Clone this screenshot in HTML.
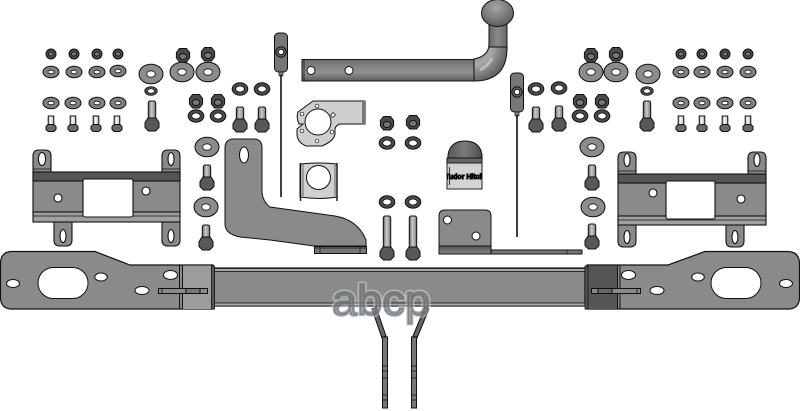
<!DOCTYPE html>
<html>
<head>
<meta charset="utf-8">
<style>
html,body{margin:0;padding:0;background:#fff}
svg{display:block}
</style>
</head>
<body>
<svg width="800" height="411" viewBox="0 0 800 411" xmlns="http://www.w3.org/2000/svg">
<defs>
<linearGradient id="shaft" x1="0" x2="1" y1="0" y2="0"><stop offset="0" stop-color="#666"/><stop offset=".45" stop-color="#ccc"/><stop offset="1" stop-color="#777"/></linearGradient>
<linearGradient id="shaftL" x1="0" x2="1" y1="0" y2="0"><stop offset="0" stop-color="#999"/><stop offset=".4" stop-color="#fff"/><stop offset="1" stop-color="#aaa"/></linearGradient>
<linearGradient id="tube" x1="0" x2="0" y1="0" y2="1"><stop offset="0" stop-color="#6e6e6e"/><stop offset=".6" stop-color="#929292"/><stop offset="1" stop-color="#5e5e5e"/></linearGradient>
<linearGradient id="vert" x1="0" x2="1" y1="0" y2="0"><stop offset="0" stop-color="#6a6a6a"/><stop offset=".5" stop-color="#8a8a8a"/><stop offset="1" stop-color="#666"/></linearGradient>
<linearGradient id="strip" x1="0" x2="0" y1="0" y2="1"><stop offset="0" stop-color="#555"/><stop offset="1" stop-color="#888"/></linearGradient>
<radialGradient id="ball" cx=".45" cy=".3" r=".75"><stop offset="0" stop-color="#a5a5a5"/><stop offset=".6" stop-color="#777"/><stop offset="1" stop-color="#555"/></radialGradient>
<radialGradient id="bend" cx="0" cy="0" r="1"><stop offset="0" stop-color="#666"/><stop offset=".55" stop-color="#aaa"/><stop offset="1" stop-color="#666"/></radialGradient>
<linearGradient id="dome" x1="0" x2="1" y1="0" y2="0"><stop offset="0" stop-color="#5a5a5a"/><stop offset=".5" stop-color="#7a7a7a"/><stop offset="1" stop-color="#4c4c4c"/></linearGradient>

<g id="sn"><circle r="5" fill="#4a4a4a" stroke="#111"/><ellipse rx="2.6" ry="2" fill="#777" stroke="#111" stroke-width=".8"/></g>
<g id="sw"><ellipse rx="8" ry="5.700" fill="#808080" stroke="#111"/><ellipse rx="3" ry="1.800" fill="#fff" stroke="#111" stroke-width=".8"/></g>
<g id="sb"><rect x="-2.800" y="-8" width="5.600" height="9" fill="url(#shaftL)" stroke="#111"/><path d="M-5 2.500L-2.800 0.500H2.800L5 2.500V5.500L2.800 7.500H-2.800L-5 5.500Z" fill="#6a6a6a" stroke="#111"/></g>
<g id="lw"><ellipse rx="12" ry="9.800" fill="#8c8c8c" stroke="#111"/><ellipse rx="4.300" ry="3.200" fill="#fff" stroke="#111" stroke-width=".8"/></g>
<g id="nut"><path d="M-6.600 -2.500L-3.500 -6.500H3.500L6.600 -2.500V3L3.500 7H-3.500L-6.600 3Z" fill="#4a4a4a" stroke="#111"/><ellipse cy="1.500" rx="3.800" ry="3" fill="#777" stroke="#111"/></g>
<g id="ring"><ellipse rx="7.800" ry="6.200" fill="#4a4a4a" stroke="#111"/><ellipse rx="4.300" ry="3" fill="#fff" stroke="#111" stroke-width=".8"/></g>
<g id="bolt"><rect x="-3.700" y="-18" width="7.400" height="15" rx="2" fill="url(#shaft)" stroke="#111"/><path d="M-7 -1.500L-4 -6H4L7 -1.500V3.500L3.500 7H-3.500L-7 3.500Z" fill="#585858" stroke="#111"/></g>
<g id="bolt2"><rect x="-3.700" y="-23" width="7.400" height="20" rx="2" fill="url(#shaft)" stroke="#111"/><path d="M-7 -1.500L-4 -6H4L7 -1.500V3.500L3.500 7H-3.500L-7 3.500Z" fill="#585858" stroke="#111"/></g>
<g id="lb"><rect x="-3.700" y="-37" width="7.400" height="33" rx="2" fill="url(#shaft)" stroke="#111"/><path d="M-7 -1.500L-4 -6H4L7 -1.500V3.500L3.500 7H-3.500L-7 3.500Z" fill="#585858" stroke="#111"/></g>
<g id="stem">
<rect x="-6.500" y="0" width="13" height="39" rx="4" fill="#777" stroke="#111"/>
<path d="M-2 39H2V43H-2Z" fill="#777" stroke="#111" stroke-width=".6"/>
<circle cy="19" r="5.200" fill="#666" stroke="#111"/><circle cy="19" r="2.800" fill="#fff" stroke="#111"/>
<line x1="0" x2="0" y1="42" y2="164" stroke="#111" stroke-width="1.600"/>
</g>
</defs>

<!-- small hardware, left -->
<use href="#sn" x="51" y="54"/><use href="#sn" x="74" y="54"/><use href="#sn" x="97" y="54"/><use href="#sn" x="118" y="54"/>
<use href="#sw" x="51" y="72"/><use href="#sw" x="74" y="72"/><use href="#sw" x="97" y="72"/><use href="#sw" x="118" y="71"/>
<use href="#sw" x="51" y="103"/><use href="#sw" x="73" y="103"/><use href="#sw" x="97" y="103"/><use href="#sw" x="118" y="103"/>
<use href="#sb" x="51" y="124"/><use href="#sb" x="73" y="124"/><use href="#sb" x="96" y="124"/><use href="#sb" x="117" y="124"/>
<!-- small hardware, right -->
<use href="#sn" x="681" y="54"/><use href="#sn" x="702" y="54"/><use href="#sn" x="725" y="54"/><use href="#sn" x="748" y="54"/>
<use href="#sw" x="681" y="72"/><use href="#sw" x="702" y="72"/><use href="#sw" x="725" y="72"/><use href="#sw" x="748" y="72"/>
<use href="#sw" x="681" y="103"/><use href="#sw" x="702" y="103"/><use href="#sw" x="725" y="103"/><use href="#sw" x="748" y="103"/>
<use href="#sb" x="681" y="124"/><use href="#sb" x="702" y="124"/><use href="#sb" x="725" y="124"/><use href="#sb" x="748" y="124"/>

<!-- large hardware, left -->
<use href="#lw" x="151" y="74"/><use href="#lw" x="182" y="72"/><use href="#lw" x="208" y="72"/>
<use href="#nut" x="183" y="55"/><use href="#nut" x="208" y="54"/>
<g transform="translate(151 91) scale(.8 .7)"><use href="#ring"/></g>
<use href="#bolt2" x="152" y="124"/>
<use href="#nut" x="196" y="101"/><use href="#nut" x="218" y="101"/>
<use href="#ring" x="196" y="116"/><use href="#ring" x="218" y="116"/>
<use href="#ring" x="240" y="89"/><use href="#ring" x="262" y="89"/>
<use href="#bolt" x="240" y="125"/><use href="#bolt" x="262" y="125"/>
<!-- large hardware, right -->
<use href="#lw" x="591" y="72"/><use href="#lw" x="616" y="72"/><use href="#lw" x="648" y="74"/>
<use href="#nut" x="591" y="55"/><use href="#nut" x="616" y="54"/>
<g transform="translate(647 91) scale(.8 .7)"><use href="#ring"/></g>
<use href="#bolt2" x="647" y="124"/>
<use href="#nut" x="580" y="101"/><use href="#nut" x="602" y="101"/>
<use href="#ring" x="580" y="116"/><use href="#ring" x="602" y="116"/>
<use href="#ring" x="536" y="89"/><use href="#ring" x="559" y="88"/>
<use href="#bolt" x="536" y="125"/><use href="#bolt" x="559" y="124"/>

<!-- side bolts -->
<use href="#lw" x="207" y="147"/><use href="#bolt" x="207" y="183"/>
<use href="#lw" x="206" y="207"/><use href="#bolt" x="206" y="243"/>
<use href="#lw" x="592" y="147"/><use href="#bolt" x="592" y="183"/>
<use href="#lw" x="593" y="207"/><use href="#bolt" x="592" y="242"/>

<!-- left bracket -->
<g stroke="#111" stroke-width="1.100">
<path d="M33 172V156Q33 150 39 150H45Q51 150 51 156V172H162V156Q162 150 168 150H174Q180 150 180 156V215L178 222H72V240Q72 246 66 246H60Q54 246 54 240V222H41Q33 222 33 216Z" fill="#8a8a8a"/>
<path d="M162 222H180V240Q180 246 174 246H168Q162 246 162 240Z" fill="#8a8a8a"/>
<rect x="33" y="172" width="147" height="9" fill="#555"/>
<rect x="33" y="212" width="147" height="10" fill="#a0a0a0"/>
<line x1="33" x2="180" y1="216" y2="216" stroke-width=".7"/>
<line x1="33" x2="51" y1="169" y2="169" stroke-width=".7"/><line x1="162" x2="180" y1="169" y2="169" stroke-width=".7"/>
<rect x="83" y="179" width="50" height="38" rx="2" fill="#fff"/>
<ellipse cx="42" cy="159" rx="3.600" ry="6.500" fill="#fff"/><ellipse cx="171" cy="159" rx="3" ry="6.500" fill="#fff"/>
<ellipse cx="63" cy="236" rx="3" ry="6.500" fill="#fff"/><ellipse cx="171" cy="236" rx="3" ry="6.500" fill="#fff"/>
<circle cx="58" cy="198" r="4" fill="#fff"/><circle cx="146" cy="191" r="4" fill="#fff"/>
</g>
<!-- right bracket -->
<g stroke="#111" stroke-width="1.100">
<path d="M618 174V158Q618 152 624 152H630Q636 152 636 158V174H748V158Q748 152 754 152H760Q766 152 766 158V218Q766 225 756 225H744V241Q744 247 738 247H732Q726 247 726 241V225H636V241Q636 247 630 247H624Q618 247 618 241Z" fill="#8a8a8a"/>
<rect x="618" y="174" width="148" height="9" fill="#555"/>
<rect x="618" y="216" width="148" height="9" fill="#a0a0a0"/>
<line x1="618" x2="766" y1="220" y2="220" stroke-width=".7"/>
<line x1="618" x2="636" y1="171" y2="171" stroke-width=".7"/><line x1="748" x2="766" y1="171" y2="171" stroke-width=".7"/>
<rect x="666" y="181" width="49" height="38" rx="2" fill="#fff"/>
<ellipse cx="627" cy="160" rx="3" ry="6.500" fill="#fff"/><ellipse cx="757" cy="160" rx="3" ry="6.500" fill="#fff"/>
<ellipse cx="627" cy="237" rx="3" ry="6.500" fill="#fff"/><ellipse cx="735" cy="237" rx="3" ry="6.500" fill="#fff"/>
<circle cx="653" cy="193" r="4" fill="#fff"/><circle cx="741" cy="199" r="4" fill="#fff"/>
</g>

<!-- L bracket -->
<path d="M225 148Q225 139 234 139H254Q262 139 262 148V192Q263 202 270 207L335 216Q358 220 366 240V246H314L270 240L240 237Q225 234 225 224Z" fill="#8a8a8a" stroke="#111" stroke-width="1"/>
<ellipse cx="244" cy="155" rx="4.500" ry="8" fill="#fff" stroke="#111"/>
<rect x="314.500" y="246.500" width="52" height="7" fill="#777" stroke="#111"/>
<path d="M320 247V253M360 247V253M314 248H366" stroke="#111" stroke-width=".7"/>

<!-- stems -->
<use href="#stem" x="281" y="33"/>
<use href="#stem" x="517" y="73"/>

<!-- hitch -->
<path d="M474 59Q489 56 489 44H507V48Q507 81 474 81Z" fill="url(#bend)" stroke="#111"/>
<path d="M480 70Q488 66 492 58" fill="none" stroke="#c8c8c8" stroke-width="3" opacity=".8"/>
<rect x="489" y="24" width="18" height="23" fill="url(#vert)" stroke="#111"/>
<rect x="302" y="59.500" width="172" height="21.500" fill="url(#tube)" stroke="#111"/>
<line x1="304" x2="304" y1="60" y2="81" stroke="#111" stroke-width=".8"/>
<circle cx="311" cy="70.500" r="4" fill="#fff" stroke="#111"/><circle cx="349" cy="70.500" r="4" fill="#fff" stroke="#111"/>
<ellipse cx="497.500" cy="13" rx="16" ry="13.500" fill="url(#ball)" stroke="#111"/>

<!-- plate 1 -->
<path d="M313 101H365V124H340Q334 126 335 132Q336 140 322 146H306Q297 142 297 134V129L303 124V124H299Q296 118 298 112Z" fill="#cfcfcf" stroke="#111"/>
<rect x="362" y="101" width="3" height="23" fill="#777"/>
<circle cx="318" cy="122" r="13" fill="#fff" stroke="#111"/>
<g fill="#fff" stroke="#111" stroke-width=".7"><circle cx="317" cy="106" r="1.800"/><circle cx="302" cy="114" r="1.800"/><circle cx="302" cy="131" r="1.800"/><circle cx="332" cy="132" r="1.800"/><circle cx="317" cy="141" r="1.800"/><path d="M333 112.500L335.500 115L333 117.500L330.500 115Z"/></g>
<!-- plate 2 -->
<path d="M300 164Q320 162 337 164V197Q320 200 300 197Z" fill="#d0d0d0" stroke="#111"/>
<path d="M300.500 163V201M337 163V201" stroke="#111" stroke-width="1.400"/>
<path d="M303 164V196M335 164V196" stroke="#666" stroke-width="1"/>
<circle cx="318.500" cy="177.500" r="12" fill="#fff" stroke="#111"/>

<!-- centre hardware -->
<use href="#nut" x="387" y="123"/><use href="#nut" x="413" y="122"/>
<use href="#ring" x="387" y="143"/><use href="#ring" x="413" y="143"/>
<use href="#ring" x="387" y="202"/><use href="#ring" x="413" y="202"/>
<use href="#lb" x="387" y="253"/><use href="#lb" x="413" y="253"/>

<!-- connector cap -->
<path d="M448 159V155Q450 141 465 141Q480 141 482 155V159Z" fill="url(#dome)" stroke="#111"/>
<rect x="447" y="158" width="35" height="5" fill="#666" stroke="#111"/>
<rect x="447" y="163" width="35" height="26" fill="#d4d4d4" stroke="#222"/>
<line x1="449.500" x2="449.500" y1="167" y2="185" stroke="#333"/>
<svg x="447" y="163" width="35" height="26"><text x="17.500" y="16" text-anchor="middle" font-family="Liberation Sans, sans-serif" font-size="7" font-weight="bold" fill="#000" stroke="#000" stroke-width=".9">Tudor Hitch</text></svg>

<!-- mounting bracket -->
<path d="M439 216Q439 210 445 210H485Q491 210 491 216V254H439Z" fill="#8a8a8a" stroke="#111"/>
<rect x="439" y="246" width="52" height="8" fill="url(#strip)" stroke="#111"/>
<circle cx="447.500" cy="220" r="4" fill="#fff" stroke="#111"/>
<circle cx="476" cy="236" r="4" fill="#fff" stroke="#111"/>
<rect x="491" y="250" width="91" height="4" fill="#777" stroke="#111"/>
<line x1="567" x2="567" y1="250" y2="254" stroke="#111" stroke-width=".7"/>

<!-- hangers -->
<path d="M372 309L376 307L386 336L382 338Z" fill="#666" stroke="#111"/>
<path d="M429 309L425 307L413 336L417 338Z" fill="#666" stroke="#111"/>
<g fill="#777" stroke="#111">
<rect x="382.500" y="337" width="5" height="71"/><rect x="411.500" y="337" width="5" height="71"/>
</g>
<path d="M382 366H388M382 371H388M382 378H388M382 395H388M382 400H388M411 366H417M411 371H417M411 378H417M411 395H417M411 400H417" stroke="#111" stroke-width=".7"/>

<!-- beam tube -->
<rect x="214" y="268" width="371" height="38" fill="#8a8a8a" stroke="#111" stroke-width="1.200"/>
<rect x="214" y="268.500" width="371" height="3" fill="#a8a8a8" stroke="#111" stroke-width=".8"/>
<rect x="214" y="303" width="371" height="3" fill="#a8a8a8" stroke="#111" stroke-width=".8"/>

<!-- left end -->
<path d="M12 251.500H95L130 265H213V309H12Q1 309 0.500 298V263Q1 251.500 12 251.500Z" fill="#8a8a8a" stroke="#111" stroke-width="1.200"/>
<rect x="182" y="265.500" width="30" height="43.500" fill="#9c9c9c"/>
<path d="M179.500 265V309M182.500 265V309" stroke="#111"/>
<rect x="211.500" y="266" width="3" height="43" fill="#555" stroke="#111" stroke-width=".8"/>
<g fill="#fff" stroke="#111">
<rect x="38" y="267.500" width="50" height="31" rx="15.500"/>
<ellipse cx="13" cy="283.500" rx="6.500" ry="4"/><ellipse cx="101" cy="277" rx="6.300" ry="4"/><ellipse cx="142" cy="290.500" rx="7" ry="4"/><ellipse cx="170.500" cy="275" rx="7" ry="4.500"/>
</g>
<rect x="158.500" y="288.500" width="49" height="5" fill="#8a8a8a" stroke="#111"/>
<path d="M162 288.500V293.500M186 288.500V293.500" stroke="#111" stroke-width=".8"/>
<path d="M186 288.500H200V293.500H186Z" fill="#777" stroke="#111"/>

<!-- right end -->
<path d="M587 265H668L705 251.500H788Q799 252 799.500 263V298Q799 309 788 309H587Z" fill="#8a8a8a" stroke="#111" stroke-width="1.200"/>
<rect x="588" y="265.500" width="29" height="43.500" fill="#565656"/>
<path d="M617.500 265V309M620 265V309" stroke="#111"/>
<rect x="585" y="266" width="3" height="43" fill="#555" stroke="#111" stroke-width=".8"/>
<g fill="#fff" stroke="#111">
<rect x="711" y="267.500" width="50" height="31" rx="15.500"/>
<ellipse cx="786" cy="283.500" rx="6.500" ry="4"/><ellipse cx="698" cy="277" rx="6.300" ry="4"/><ellipse cx="657" cy="290.500" rx="7" ry="4"/><ellipse cx="628.500" cy="275" rx="7" ry="4.500"/>
</g>
<rect x="591.500" y="288.500" width="49" height="5" fill="#8a8a8a" stroke="#111"/>
<path d="M598 288.500V293.500M637 288.500V293.500" stroke="#111" stroke-width=".8"/>
<path d="M598 288.500H612V293.500H598Z" fill="#666" stroke="#111"/>

<!-- watermark -->
<g font-family="Liberation Sans, sans-serif" font-size="43" text-anchor="middle">
<text x="381" y="315" textLength="98" lengthAdjust="spacingAndGlyphs" fill="none" stroke="#fff" stroke-opacity=".4" stroke-width="5" stroke-linejoin="round">abcp</text>
<text x="381" y="315" textLength="98" lengthAdjust="spacingAndGlyphs" fill="#5f6468" stroke="#5f6468" stroke-opacity=".55" fill-opacity=".55" stroke-width="2.500" stroke-linejoin="round">abcp</text>
</g>
</svg>
</body>
</html>
